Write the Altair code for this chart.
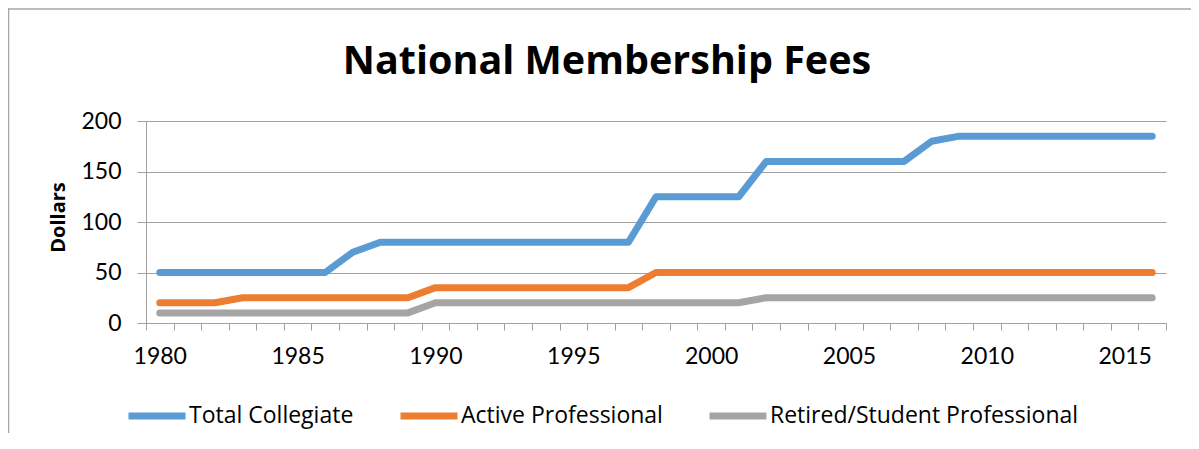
import altair as alt
import pandas as pd

years = list(range(1980, 2017))
total_collegiate = [50, 50, 50, 50, 50, 50, 50, 70, 80, 80, 80, 80, 80, 80, 80, 80, 80, 80,
                    125, 125, 125, 125, 160, 160, 160, 160, 160, 160, 180,
                    185, 185, 185, 185, 185, 185, 185, 185]
active_professional = [20, 20, 20, 25, 25, 25, 25, 25, 25, 25, 35, 35, 35, 35, 35, 35, 35, 35,
                       50, 50, 50, 50, 50, 50, 50, 50, 50, 50, 50, 50, 50, 50, 50, 50, 50, 50, 50]
retired_student = [10, 10, 10, 10, 10, 10, 10, 10, 10, 10, 20, 20, 20, 20, 20, 20, 20, 20,
                   20, 20, 20, 20, 25, 25, 25, 25, 25, 25, 25, 25, 25, 25, 25, 25, 25, 25, 25]
series_names = ["Total Collegiate", "Active Professional", "Retired/Student Professional"]
series_colors = ["#5B9BD5", "#ED7D31", "#A5A5A5"]
y_ticks = [0, 50, 100, 150, 200]
chart_title = "National Membership Fees"

rows = []
for name, vals in zip(series_names, [total_collegiate, active_professional, retired_student]):
    for yr, v in zip(years, vals):
        rows.append({"Year": yr, "Dollars": v, "Series": name})
df = pd.DataFrame(rows)

W, H = 1020, 202
FONT = "Lato"
FONT2 = "Open Sans"
GRID = "#A0A0A0"

lines = alt.Chart(df).mark_line(strokeWidth=7, strokeCap="round", strokeJoin="round").encode(
    x=alt.X("Year:O", bandPosition=0.5,
            scale=alt.Scale(type="band", paddingInner=0, paddingOuter=0),
            axis=alt.Axis(title=None, grid=False, tickBand="extent",
                          labelExpr="datum.value % 5 == 0 ? datum.label : ''",
                          labelAngle=0, tickSize=7, labelPadding=15,
                          labelFontSize=23, labelFont=FONT, labelColor="#000000",
                          domainColor=GRID, tickColor=GRID, labelOverlap=False)),
    y=alt.Y("Dollars:Q", scale=alt.Scale(domain=[0, 200], nice=False),
            axis=alt.Axis(values=y_ticks, title="Dollars", grid=True, gridColor=GRID,
                          tickSize=9, labelPadding=16, labelFontSize=23, labelFont=FONT,
                          labelColor="#000000", domainColor=GRID, tickColor=GRID,
                          titleFont=FONT2, titleFontSize=20, titleFontWeight="bold",
                          titleColor="#000000", titleX=-82, titleY=H / 2 - 5,
                          titleBaseline="alphabetic", titleAngle=270)),
    color=alt.Color("Series:N", sort=series_names,
                    scale=alt.Scale(domain=series_names, range=series_colors),
                    legend=alt.Legend(title=None, orient="none", direction="horizontal",
                                      legendX=-21, legendY=263, symbolType="stroke",
                                      symbolSize=57 * 57, symbolStrokeWidth=7,
                                      labelOffset=0, columnPadding=32, padding=0,
                                      labelFont=FONT2, labelFontSize=23, labelLimit=0,
                                      labelColor="#000000")),
    order=alt.Order("Year:Q"),
)

frame = alt.Data(values=[{"k": 1}])
title_text = alt.Chart(frame).mark_text(
    text=chart_title, font=FONT2, fontSize=39.5, fontWeight="bold", color="#000000",
    align="center", baseline="alphabetic").encode(
    x=alt.value(607 - 146), y=alt.value(74 - 121))
left_border = alt.Chart(frame).mark_rule(color="#A6A6A6", strokeWidth=1.5).encode(
    x=alt.value(-137.5), y=alt.value(-113), y2=alt.value(330))
top_border = alt.Chart(frame).mark_rule(color="#A6A6A6", strokeWidth=1.5).encode(
    x=alt.value(-138), x2=alt.value(1050), y=alt.value(-112))

chart = alt.layer(lines, title_text, left_border, top_border).properties(
    width=W, height=H,
    padding={"left": 138, "top": 113, "right": 25, "bottom": 110},
    autosize=alt.AutoSizeParams(type="none"),
).configure_view(stroke=None)

chart.save("out.html", embed_options={"renderer": "svg", "actions": False})
